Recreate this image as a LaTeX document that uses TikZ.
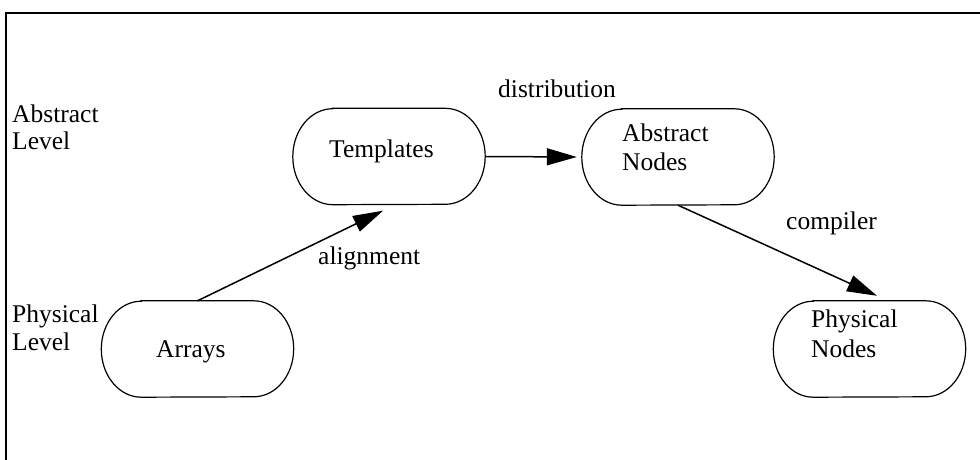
\documentclass[tikz,border=0pt]{standalone}
\usepackage{fontspec}
\setmainfont{Liberation Serif}
\usetikzlibrary{arrows.meta,calc}
\newcommand\stadiumpath[1]{%
  \draw[shapeline] ($(#1.north west)+(40,0)$) -- ($(#1.north east)+(-40,0)$)
    arc[start angle=90,end angle=-90,x radius=40,y radius=48]
    -- ($(#1.south west)+(40,0)$)
    arc[start angle=270,end angle=90,x radius=40,y radius=48] -- cycle;}
\begin{document}
\begin{tikzpicture}[x=1pt,y=1pt,
  box/.style={draw=none,rectangle,minimum width=192pt,minimum height=96pt,inner sep=0pt},
  txt/.style={anchor=base west,inner sep=0pt,align=left,font=\fontsize{25.5}{29}\selectfont},
  shapeline/.style={line width=1.2pt},
  conn/.style={line width=1.5pt,-{Triangle[length=30pt,width=17pt]}}]
\useasboundingbox (0,0) rectangle (980,459);
% frame
\draw[line width=2.6pt] (6,-5) -- (6,446) -- (990,446);
% shape nodes
\node[box] (t) at (389,302.5) {};
\node[box] (a) at (678,302) {};
\node[box] (arr) at (197.5,110) {};
\node[box] (p) at (869.5,110) {};
\stadiumpath{t}
\stadiumpath{a}
\stadiumpath{arr}
\stadiumpath{p}
% texts in shapes
\node[txt] (tl) at (329,302) {Templates};
\node[txt] (al) at (622,289) {Abstract\\Nodes};
\node[txt] (arrl) at (156,102) {Arrays};
\node[txt,font=\fontsize{25.5}{30}\selectfont] (pl) at (811,102) {Physical\\Nodes};
% level labels
\node[txt,font=\fontsize{25.5}{27}\selectfont] (al1) at (12,310) {Abstract\\Level};
\node[txt,font=\fontsize{25.5}{28}\selectfont] (pl1) at (12,109) {Physical\\Level};
% connectors
\draw[conn,shorten >=5pt] (t.east) -- (a.west);
\draw[conn] (arr.north) -- ($(t.south)+(-6,-6)$);
\draw[conn] (a.south) -- ($(p.north)+(7.5,5)$);
% connector labels
\node[txt] (dist) at (498,362) {distribution};
\node[txt] (align) at (318,195) {alignment};
\node[txt] (comp) at (786,230) {compiler};
\end{tikzpicture}
\end{document}
